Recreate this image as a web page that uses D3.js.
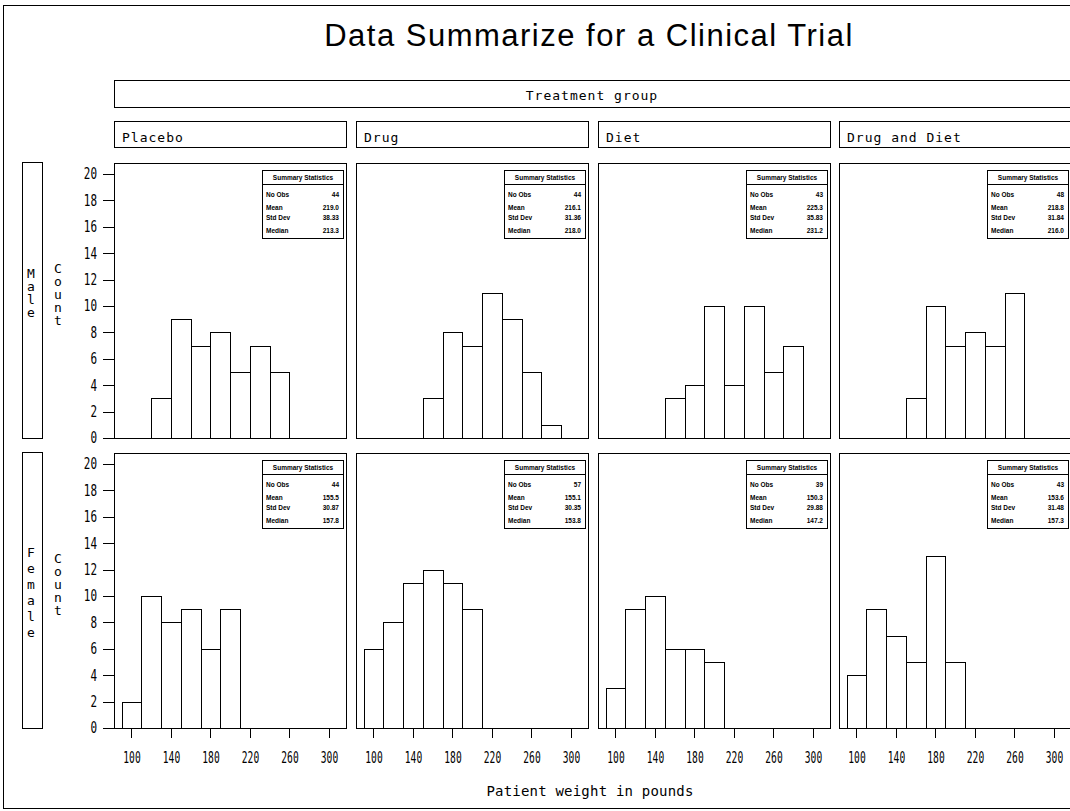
<!DOCTYPE html>
<meta charset="utf-8">
<style>
body { margin: 0; background: #fff; }
svg { display: block; }
.mono { font-family: "DejaVu Sans Mono", "Liberation Mono", monospace; fill: #000; }
.frame, .bar, .box { fill: none; stroke: #000; stroke-width: 1; shape-rendering: crispEdges; }
.bar { fill: #fff; }
.axis path { display: none; }
.axis line { stroke: #000; shape-rendering: crispEdges; }
.inset text { font-family: "Liberation Sans", Arial, sans-serif; font-weight: bold; font-size: 6.5px; }
</style>
<body>
<script src="https://d3js.org/d3.v7.min.js"></script>
<script>

var groups = ["Placebo", "Drug", "Diet", "Drug and Diet"];
var sexes = ["Male", "Female"];
var binWidth = 20;

// left edge of first bin, then counts per bin
var maleStart = [120, 150, 150, 150];
var maleCounts = [
  [3, 9, 7, 8, 5, 7, 5],
  [3, 8, 7, 11, 9, 5, 1],
  [3, 4, 10, 4, 10, 5, 7],
  [3, 10, 7, 8, 7, 11]
];
var femaleStart = [90, 90, 90, 90];
var femaleCounts = [
  [2, 10, 8, 9, 6, 9],
  [6, 8, 11, 12, 11, 9],
  [3, 9, 10, 6, 6, 5],
  [4, 9, 7, 5, 13, 5]
];

var statLabels = ["No Obs", "Mean", "Std Dev", "Median"];
var maleStats = [
  ["44", "219.0", "38.33", "213.3"],
  ["44", "216.1", "31.36", "218.0"],
  ["43", "225.3", "35.83", "231.2"],
  ["48", "218.8", "31.84", "216.0"]
];
var femaleStats = [
  ["44", "155.5", "30.87", "157.8"],
  ["57", "155.1", "30.35", "153.8"],
  ["39", "150.3", "29.88", "147.2"],
  ["43", "153.6", "31.48", "157.3"]
];

var xTicks = [100, 140, 180, 220, 260, 300];
var yTicks = [0, 2, 4, 6, 8, 10, 12, 14, 16, 18, 20];

var width = 1070, height = 811;
var colX = [114, 356, 598, 839], colW = 232;
var rowTop = [163, 453], rowBottom = [438, 728];

var svg = d3.select("body").append("svg")
    .attr("width", width)
    .attr("height", height);

// outer border
svg.append("rect").attr("class", "frame")
    .attr("x", 3.5).attr("y", 5.5).attr("width", 1080).attr("height", 803);

svg.append("text")
    .attr("x", 589).attr("y", 46)
    .attr("text-anchor", "middle")
    .style("font-family", "'Liberation Sans', Arial, sans-serif")
    .style("font-size", "31px")
    .style("letter-spacing", "1.5px")
    .text("Data Summarize for a Clinical Trial");

// treatment group header
svg.append("rect").attr("class", "box")
    .attr("x", 114.5).attr("y", 80.5).attr("width", colX[3] + colW - 114).attr("height", 27);
svg.append("text").attr("class", "mono")
    .attr("x", 592).attr("y", 100)
    .attr("text-anchor", "middle")
    .style("font-size", "13px").style("letter-spacing", "1px")
    .text("Treatment group");

var x = colX.map(function(cx) {
  return d3.scaleLinear().domain([82.3, 82.3 + colW / 0.9875]).range([cx, cx + colW]);
});
var y = rowBottom.map(function(b) {
  return d3.scaleLinear().domain([0, 20]).range([b, b - 264]);
});

groups.forEach(function(g, c) {
  svg.append("rect").attr("class", "box")
      .attr("x", colX[c] + 0.5).attr("y", 121.5).attr("width", colW).attr("height", 26);
  svg.append("text").attr("class", "mono")
      .attr("x", colX[c] + 8).attr("y", 142)
      .style("font-size", "13px").style("letter-spacing", "1px")
      .text(g);
});

sexes.forEach(function(s, r) {
  var starts = r === 0 ? maleStart : femaleStart;
  var counts = r === 0 ? maleCounts : femaleCounts;
  var stats = r === 0 ? maleStats : femaleStats;

  // row label box with stacked letters
  svg.append("rect").attr("class", "box")
      .attr("x", 22.5).attr("y", rowTop[r] - 0.5).attr("width", 20).attr("height", rowBottom[r] - rowTop[r] + 1);
  var pitch = r === 0 ? 13 : 16;
  var mid = r === 0 ? 292 : 592;
  s.split("").forEach(function(ch, i) {
    svg.append("text").attr("class", "mono")
        .attr("x", 31).attr("y", mid - (s.length - 1) * pitch / 2 + i * pitch + 5)
        .attr("text-anchor", "middle").style("font-size", "13px")
        .text(ch);
  });
  var cmid = r === 0 ? 294 : 584;
  "Count".split("").forEach(function(ch, i) {
    svg.append("text").attr("class", "mono")
        .attr("x", 58).attr("y", cmid - 2 * 13 + i * 13 + 5)
        .attr("text-anchor", "middle").style("font-size", "13px")
        .text(ch);
  });

  // y axis
  var ya = svg.append("g").attr("class", "axis")
      .attr("transform", "translate(" + colX[0] + ",0)")
      .call(d3.axisLeft(y[r]).tickValues(yTicks).tickSize(11).tickPadding(6));
  ya.selectAll("text").attr("class", "mono")
      .style("font-size", "15px")
      .attr("textLength", function(d) { return String(d).length * 6.6; })
      .attr("lengthAdjust", "spacingAndGlyphs");

  groups.forEach(function(g, c) {
    var bins = counts[c].map(function(n, i) {
      return {x0: starts[c] + i * binWidth, n: n};
    });
    var panel = svg.append("g");
    panel.selectAll(".bar")
        .data(bins)
      .enter().append("rect")
        .attr("class", "bar")
        .attr("x", function(d) { return Math.round(x[c](d.x0)) + 0.5; })
        .attr("width", function(d) { return Math.round(x[c](d.x0 + binWidth)) - Math.round(x[c](d.x0)); })
        .attr("y", function(d) { return Math.round(y[r](d.n)) + 0.5; })
        .attr("height", function(d) { return Math.round(y[r](0)) - Math.round(y[r](d.n)); });

    panel.append("rect").attr("class", "frame")
        .attr("x", colX[c] + 0.5).attr("y", rowTop[r] + 0.5)
        .attr("width", colW).attr("height", rowBottom[r] - rowTop[r]);

    // summary statistics inset
    var bx = colX[c] + colW - 84, by = rowTop[r] + 7;
    var inset = panel.append("g").attr("class", "inset");
    inset.append("rect").attr("class", "box")
        .attr("x", bx + 0.5).attr("y", by + 0.5).attr("width", 81).attr("height", 68);
    inset.append("line").attr("class", "box")
        .attr("x1", bx).attr("x2", bx + 81)
        .attr("y1", by + 14.5).attr("y2", by + 14.5);
    inset.append("text")
        .attr("x", bx + 41).attr("y", by + 10)
        .attr("text-anchor", "middle")
        .text("Summary Statistics");
    var rowY = [26.5, 39.5, 49.5, 63];
    statLabels.forEach(function(l, i) {
      inset.append("text").attr("x", bx + 4).attr("y", by + rowY[i]).text(l);
      inset.append("text").attr("x", bx + 77).attr("y", by + rowY[i])
          .attr("text-anchor", "end").text(stats[c][i]);
    });

    if (r === 1) {
      var xa = svg.append("g").attr("class", "axis")
          .attr("transform", "translate(0," + rowBottom[r] + ")")
          .call(d3.axisBottom(x[c]).tickValues(xTicks).tickSize(10).tickPadding(14));
      xa.selectAll("text").attr("class", "mono")
          .style("font-size", "16px")
          .attr("textLength", function(d) { return String(d).length * 5.8; })
          .attr("lengthAdjust", "spacingAndGlyphs");
    }
  });
});

svg.append("text").attr("class", "mono")
    .attr("x", 590).attr("y", 796)
    .attr("text-anchor", "middle")
    .style("font-size", "14px").style("letter-spacing", "0.2px")
    .text("Patient weight in pounds");

</script>
</body>
